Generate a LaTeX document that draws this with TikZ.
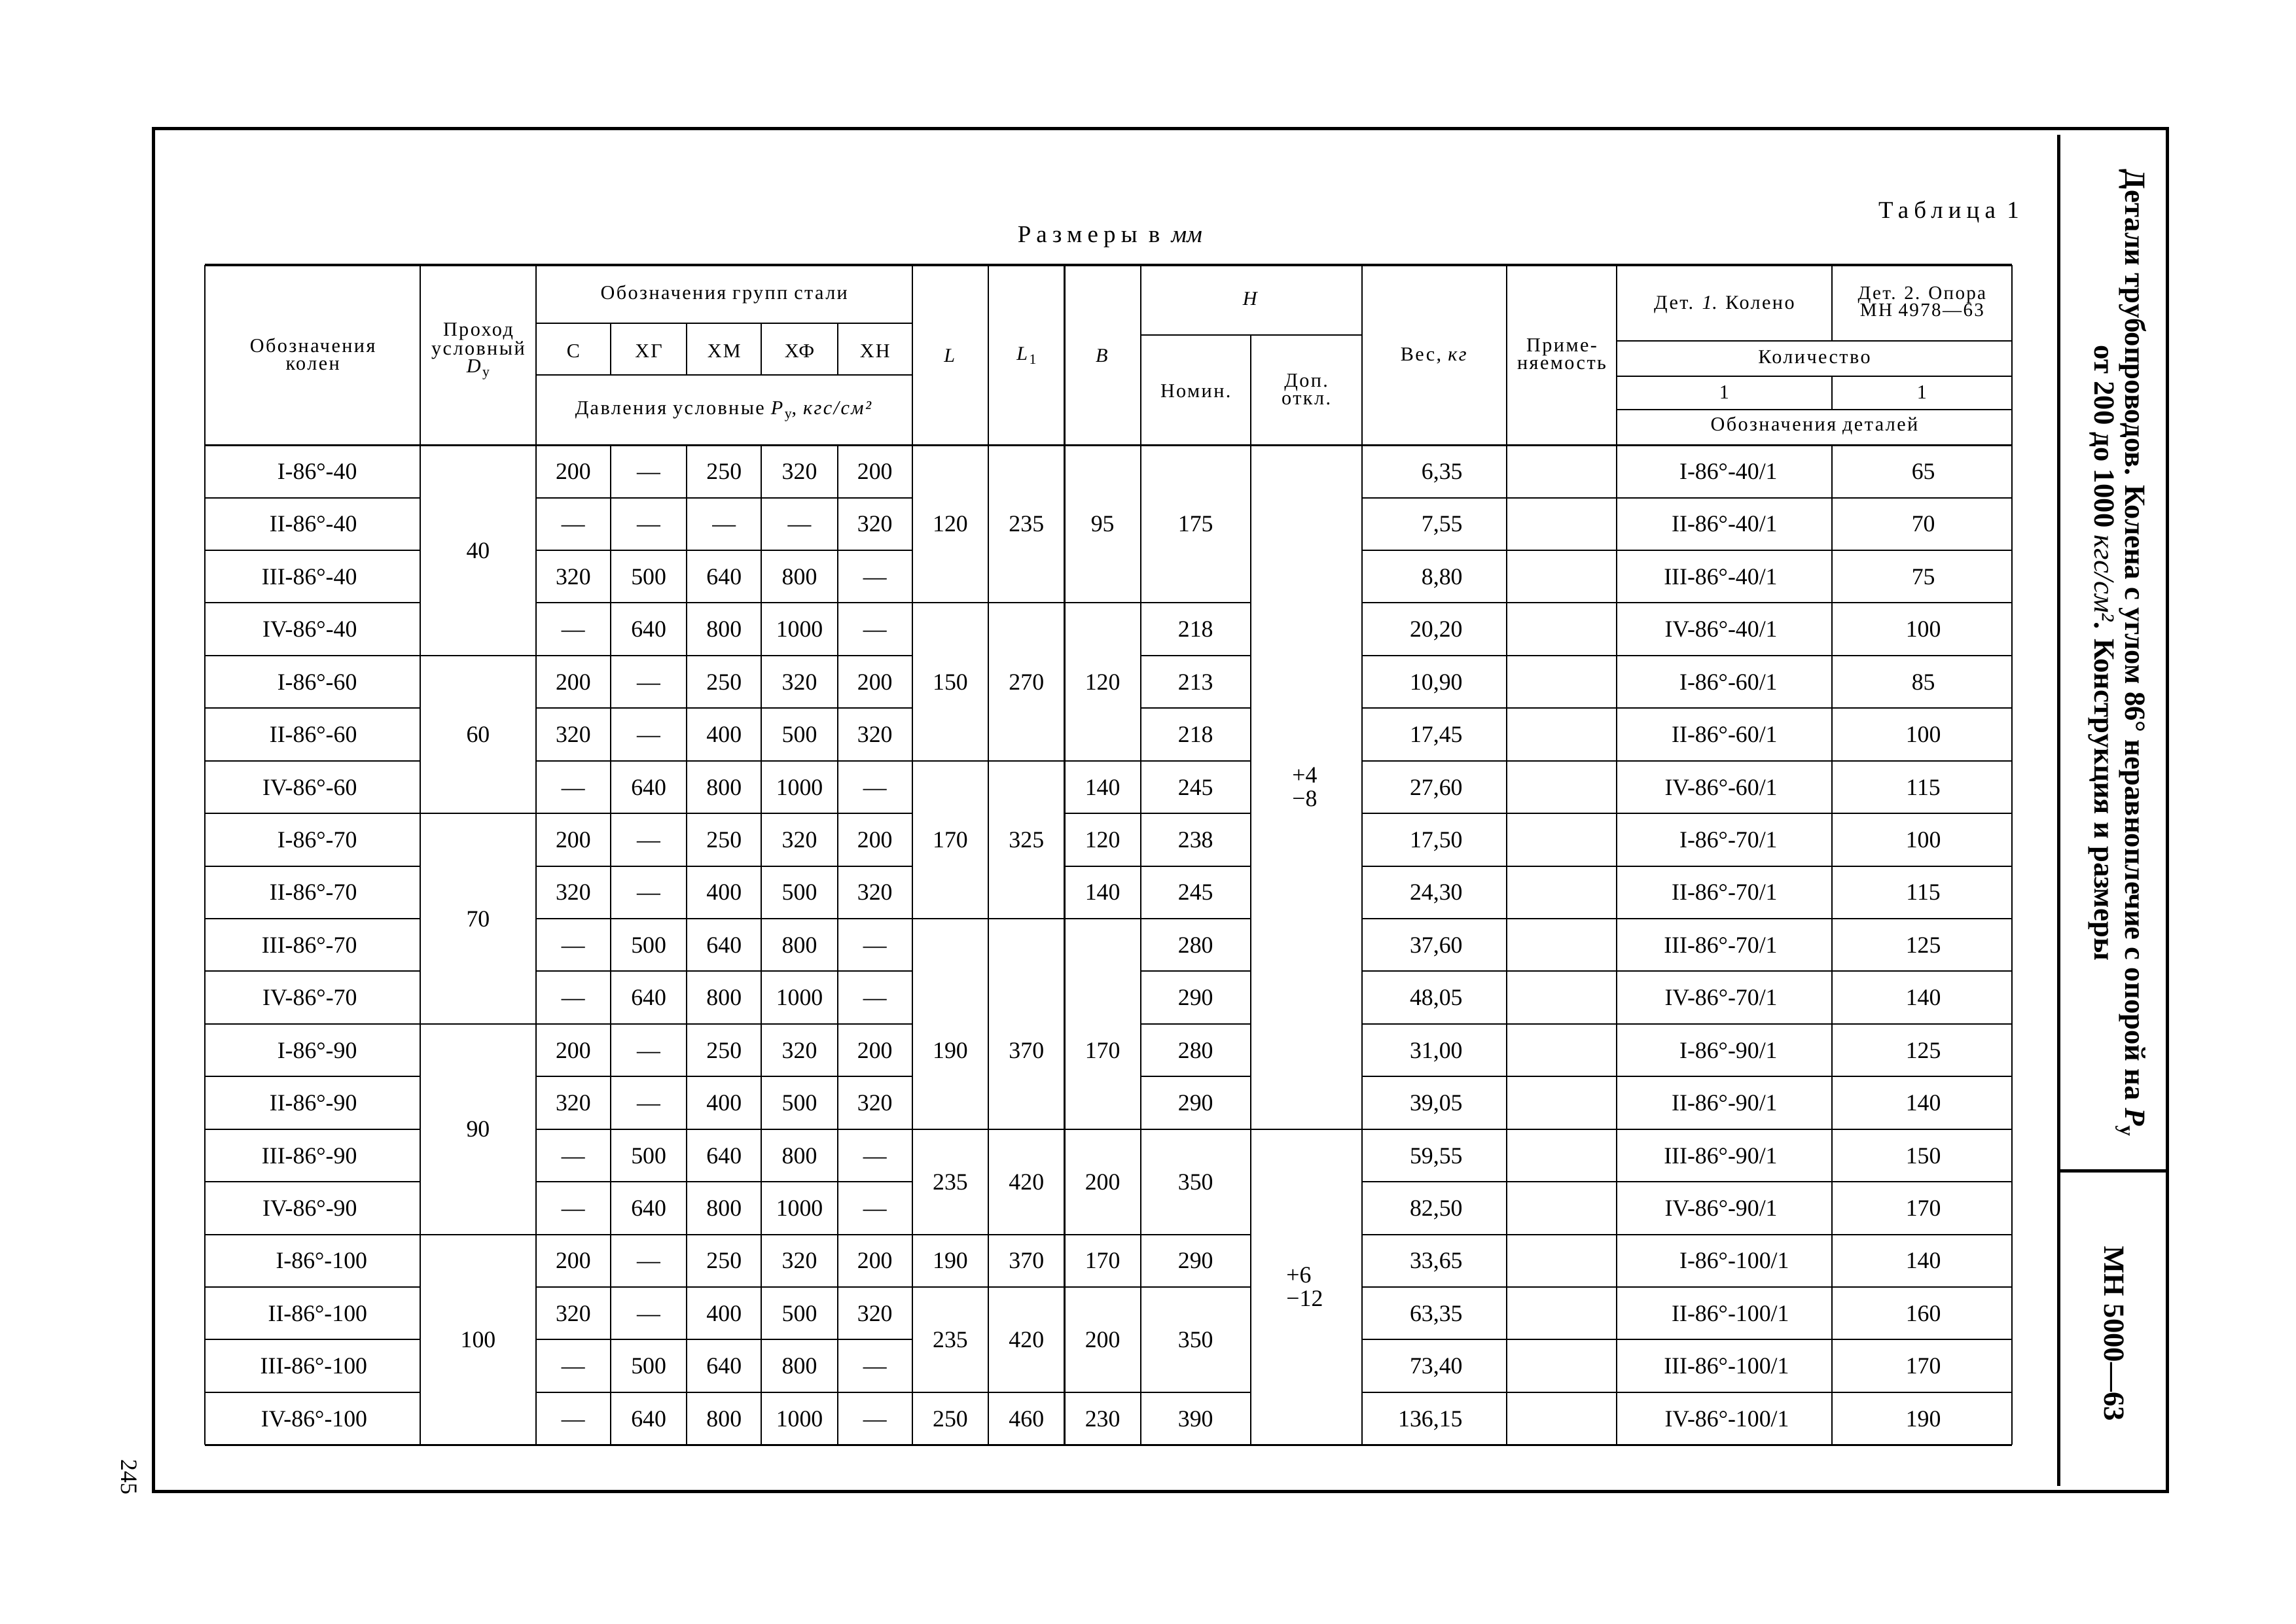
\documentclass[tikz,border=0pt]{standalone}
\usepackage{fontspec}
\setmainfont{Liberation Serif}
\newfontfamily\hdrfont{Liberation Serif}[LetterSpace=8]
\newfontfamily\widefont{Liberation Serif}[LetterSpace=22]
\newcommand{\bodyfont}{\fontsize{16}{16}\selectfont}
\newcommand{\lowsub}[1]{\raisebox{-0.4ex}{\scalebox{0.72}{#1}}}

\begin{document}
\begin{tikzpicture}[x=1pt,y=-1pt,
    frame/.style={line width=2.2pt},
    rule/.style={line width=0.9pt},
    heavy/.style={line width=1.4pt},
    cell/.style={font=\bodyfont,inner sep=0pt,text height=10.8pt,text depth=0pt},
    cellr/.style={cell,anchor=east},
    tol/.style={font=\bodyfont,align=left,inner sep=0pt},
    head/.style={font=\hdrfont\fontsize{13.5}{12}\selectfont,align=center,inner sep=0pt},
    spaced/.style={font=\widefont\fontsize{16.5}{18}\selectfont,inner sep=0pt},
    title/.style={font=\fontsize{20}{19}\selectfont\bfseries,align=center,
        inner sep=0pt,rotate=-90},
  ]
  \useasboundingbox (0,0) rectangle (1568,1109);

  % Page frame and title strip
  \draw[frame] (105,88) -- (1480,88) -- (1480,1019) -- (105,1019) -- cycle;
  \draw[frame] (1406,92) -- (1406,1015);
  \draw[frame] (1406,800) -- (1480,800);
  \node[title] (ttl) at (1446,446) {Детали трубопроводов. Колена с углом 86° неравноплечие с опорой на \textit{P}\lowsub{у}\\
      от 200 до 1000 {\mdseries\itshape кгс/см²}. Конструкция и размеры};
  \node[title] (std) at (1444,911) {МН 5000—63};
  \node[font=\fontsize{16}{16}\selectfont,rotate=-90,inner sep=0pt] (page) at (88,1009) {245};

  % Captions
  \node[spaced,anchor=base east] (tabno) at (1379,149) {Таблица 1};
  \node[spaced,anchor=base] (units) at (758,165.5) {Размеры в {\rmfamily\itshape мм}};

  % Table rules: outline and header
  \draw[heavy] (140,181) -- (1374,181);
  \draw[heavy] (140,304) -- (1374,304);
  \draw[heavy] (140,987) -- (1374,987);
  \foreach \x in {140,287,366,623,675,727,779,930,1029,1104,1374}
    \draw[rule] (\x,181) -- (\x,987);
  \foreach \x in {417,469,520,572}
    \draw[rule] (\x,221) -- (\x,256) (\x,304) -- (\x,987);
  \draw[rule] (854,229) -- (854,987);
  \draw[rule] (1251,181) -- (1251,233) (1251,257) -- (1251,280) (1251,304) -- (1251,987);
  \draw[rule] (366,221) -- (623,221) (366,256) -- (623,256) (779,229) -- (930,229);
  \draw[rule] (1104,233) -- (1374,233) (1104,257) -- (1374,257) (1104,280) -- (1374,280);

  % Table rules: body
  \foreach \k in {1,...,18} {
    \pgfmathsetmacro\yk{304+35.95*\k}
    \draw[rule] (140,\yk) -- (287,\yk) (366,\yk) -- (623,\yk) (930,\yk) -- (1374,\yk);
  }
  \foreach \k in {4,7,11,15} {
    \pgfmathsetmacro\yk{304+35.95*\k}
    \draw[rule] (287,\yk) -- (366,\yk);
  }
  \foreach \k in {3,6,9,13,15,16,18} {
    \pgfmathsetmacro\yk{304+35.95*\k}
    \draw[rule] (623,\yk) -- (727,\yk);
  }
  \foreach \k in {3,6,7,8,9,13,15,16,18} {
    \pgfmathsetmacro\yk{304+35.95*\k}
    \draw[rule] (727,\yk) -- (779,\yk);
  }
  \foreach \k in {3,...,13,15,16,18} {
    \pgfmathsetmacro\yk{304+35.95*\k}
    \draw[rule] (779,\yk) -- (854,\yk);
  }
  \draw[rule] (854,{304+35.95*13}) -- (930,{304+35.95*13});

  % Header texts
  \node[head] (hkol) at (213.5,242) {Обозначения\\колен};
  \node[head] (hdu) at (326.5,240) {Проход\\условный\\\textit{D}\lowsub{у}};
  \node[head] (hsteel) at (494.5,201) {Обозначения групп стали};
  \foreach \s/\x in {С/391.5,ХГ/443,ХМ/494.5,ХФ/546,ХН/597.5}
    \node[head] (hst-\s) at (\x,240) {\s};
  \node[head] (hpress) at (494.5,281) {Давления условные \textit{P}\lowsub{у}, \textit{кгс/см²}};
  \node[head] (hL) at (649,243) {\textit{L}};
  \node[head] (hLa) at (701,243) {\textit{L}\lowsub{1}};
  \node[head] (hB) at (753,243) {\textit{B}};
  \node[head] (hH) at (854.5,204) {\textit{H}};
  \node[head] (hnom) at (816.5,267) {Номин.};
  \node[head] (hdop) at (892,266) {Доп.\\откл.};
  \node[head] (hves) at (979.5,243) {Вес, \textit{кг}};
  \node[head] (hprim) at (1066.5,242) {Приме-\\няемость};
  \node[head] (hdet1) at (1177.5,208) {Дет. \textit{1}. Колено};
  \node[head,font=\hdrfont\fontsize{13}{11.5}\selectfont] (hdet2) at (1312.5,206) {Дет. 2. Опора\\МН 4978—63};
  \node[head] (hqty) at (1239,244) {Количество};
  \node[head] (hq1) at (1177.5,268) {1};
  \node[head] (hq2) at (1312.5,268) {1};
  \node[head] (hdes) at (1239,291) {Обозначения деталей};

  % Rows
  \foreach \i/\kol/\c/\xg/\xm/\xf/\xn/\ves/\num in {
      1/I-86°-40/200/—/250/320/200/{6,35}/65,
      2/II-86°-40/—/—/—/—/320/{7,55}/70,
      3/III-86°-40/320/500/640/800/—/{8,80}/75,
      4/IV-86°-40/—/640/800/1000/—/{20,20}/100,
      5/I-86°-60/200/—/250/320/200/{10,90}/85,
      6/II-86°-60/320/—/400/500/320/{17,45}/100,
      7/IV-86°-60/—/640/800/1000/—/{27,60}/115,
      8/I-86°-70/200/—/250/320/200/{17,50}/100,
      9/II-86°-70/320/—/400/500/320/{24,30}/115,
      10/III-86°-70/—/500/640/800/—/{37,60}/125,
      11/IV-86°-70/—/640/800/1000/—/{48,05}/140,
      12/I-86°-90/200/—/250/320/200/{31,00}/125,
      13/II-86°-90/320/—/400/500/320/{39,05}/140,
      14/III-86°-90/—/500/640/800/—/{59,55}/150,
      15/IV-86°-90/—/640/800/1000/—/{82,50}/170,
      16/I-86°-100/200/—/250/320/200/{33,65}/140,
      17/II-86°-100/320/—/400/500/320/{63,35}/160,
      18/III-86°-100/—/500/640/800/—/{73,40}/170,
      19/IV-86°-100/—/640/800/1000/—/{136,15}/190} {
    \pgfmathsetmacro\yc{304+35.95*(\i-0.5)}
    \pgfmathsetmacro\kx{\i>15 ? 251 : 244}
    \pgfmathsetmacro\dx{\i>15 ? 1222 : 1214}
    \node[cellr] (kol-\i) at (\kx,\yc) {\kol};
    \node[cell] (c-\i) at (391.5,\yc) {\c};
    \node[cell] (xg-\i) at (443,\yc) {\xg};
    \node[cell] (xm-\i) at (494.5,\yc) {\xm};
    \node[cell] (xf-\i) at (546,\yc) {\xf};
    \node[cell] (xn-\i) at (597.5,\yc) {\xn};
    \node[cellr] (ves-\i) at (999,\yc) {\ves};
    \node[cellr] (det-\i) at (\dx,\yc) {\kol/1};
    \node[cell] (op-\i) at (1313.5,\yc) {\num};
  }

  % Merged cells
  \foreach \v/\m in {40/2,60/5.5,70/9,90/13,100/17}
    \node[cell] (dy-\v) at (326.5,{304+35.95*\m}) {\v};
  \foreach \m/\l/\la [count=\n] in {1.5/120/235,4.5/150/270,7.5/170/325,11.5/190/370,
      14/235/420,15.5/190/370,17/235/420,18.5/250/460} {
    \node[cell] (len-\n) at (649,{304+35.95*\m}) {\l};
    \node[cell] (lena-\n) at (701,{304+35.95*\m}) {\la};
  }
  \foreach \m/\b [count=\n] in {1.5/95,4.5/120,6.5/140,7.5/120,8.5/140,11.5/170,
      14/200,15.5/170,17/200,18.5/230}
    \node[cell] (b-\n) at (753,{304+35.95*\m}) {\b};
  \foreach \m/\h [count=\n] in {1.5/175,3.5/218,4.5/213,5.5/218,6.5/245,7.5/238,8.5/245,
      9.5/280,10.5/290,11.5/280,12.5/290,14/350,15.5/290,17/350,18.5/390}
    \node[cell] (hn-\n) at (816.5,{304+35.95*\m}) {\h};
  \node[tol] (tol-1) at (891,{304+35.95*6.5}) {+4\\−8};
  \node[tol] (tol-2) at (891,{304+35.95*16}) {+6\\−12};
\end{tikzpicture}
\end{document}
